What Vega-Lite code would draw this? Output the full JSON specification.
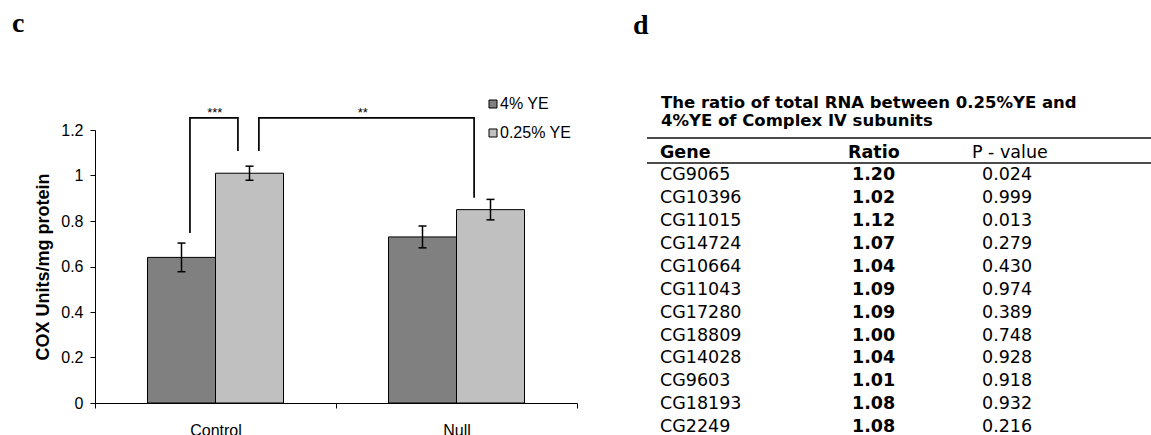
{
  "$schema": "https://vega.github.io/schema/vega-lite/v6.json",
  "background": "white",
  "padding": {"left": 12, "top": 9, "right": 0, "bottom": 0},
  "bounds": "flush",
  "spacing": 70,
  "config": {"view": {"stroke": null}, "font": "Liberation Sans"},
  "datasets": {
    "cox": [
      {"genotype": "Control", "diet": "4% YE", "mean": 0.64, "lo": 0.577, "hi": 0.703},
      {"genotype": "Control", "diet": "0.25% YE", "mean": 1.01, "lo": 0.979, "hi": 1.041},
      {"genotype": "Null", "diet": "4% YE", "mean": 0.73, "lo": 0.682, "hi": 0.778},
      {"genotype": "Null", "diet": "0.25% YE", "mean": 0.85, "lo": 0.805, "hi": 0.895}
    ],
    "brackets": [
      {"pair": "control", "k": 1, "bx": 0.394, "by": 0.747},
      {"pair": "control", "k": 2, "bx": 0.394, "by": 1.253},
      {"pair": "control", "k": 3, "bx": 0.593, "by": 1.253},
      {"pair": "control", "k": 4, "bx": 0.593, "by": 1.108},
      {"pair": "lowYE", "k": 1, "bx": 0.68, "by": 1.108},
      {"pair": "lowYE", "k": 2, "bx": 0.68, "by": 1.253},
      {"pair": "lowYE", "k": 3, "bx": 1.573, "by": 1.253},
      {"pair": "lowYE", "k": 4, "bx": 1.573, "by": 0.902}
    ],
    "stars": [
      {"sx": 0.497, "sy": 1.253, "label": "***"},
      {"sx": 1.111, "sy": 1.253, "label": "**"}
    ],
    "header": [
      {"col": "Gene"},
      {"col": "Ratio"},
      {"col": "P - value"}
    ],
    "genes": [
      {"gene": "CG9065", "ratio": 1.20, "p": 0.024},
      {"gene": "CG10396", "ratio": 1.02, "p": 0.999},
      {"gene": "CG11015", "ratio": 1.12, "p": 0.013},
      {"gene": "CG14724", "ratio": 1.07, "p": 0.279},
      {"gene": "CG10664", "ratio": 1.04, "p": 0.430},
      {"gene": "CG11043", "ratio": 1.09, "p": 0.974},
      {"gene": "CG17280", "ratio": 1.09, "p": 0.389},
      {"gene": "CG18809", "ratio": 1.00, "p": 0.748},
      {"gene": "CG14028", "ratio": 1.04, "p": 0.928},
      {"gene": "CG9603", "ratio": 1.01, "p": 0.918},
      {"gene": "CG18193", "ratio": 1.08, "p": 0.932},
      {"gene": "CG2249", "ratio": 1.08, "p": 0.216}
    ]
  },
  "hconcat": [
    {
      "width": 482,
      "height": 273,
      "title": {"text": "c", "anchor": "start", "frame": "group", "dx": -83, "offset": 47, "baseline": "alphabetic", "font": "Liberation Serif", "fontSize": 28, "fontWeight": "bold", "color": "black"},
      "layer": [
        {
          "data": {"name": "cox"},
          "encoding": {
            "x": {
              "field": "genotype", "type": "nominal",
              "scale": {"paddingInner": 0, "paddingOuter": 0},
              "axis": {"title": null, "labelAngle": 0, "labelFontSize": 16, "labelColor": "black", "labelPadding": 14, "domainColor": "black", "tickColor": "black", "tickSize": 5, "tickBand": "extent"}
            },
            "xOffset": {"field": "diet", "scale": {"domain": ["4% YE", "0.25% YE"], "paddingInner": 0, "paddingOuter": 0.772}}
          },
          "layer": [
            {
              "mark": {"type": "bar", "stroke": "black", "strokeWidth": 1, "opacity": 1},
              "encoding": {
                "y": {
                  "field": "mean", "type": "quantitative", "title": "COX Units/mg protein",
                  "scale": {"domain": [0, 1.2], "nice": false},
                  "axis": {"values": [0, 0.2, 0.4, 0.6, 0.8, 1, 1.2], "format": "~g", "grid": false, "domainColor": "black", "tickColor": "black", "tickSize": 5, "labelFontSize": 16, "labelColor": "black", "labelPadding": 7, "titleFontSize": 18, "titleFontWeight": "bold", "titleColor": "black", "titlePadding": 8}
                },
                "fill": {
                  "field": "diet", "type": "nominal",
                  "scale": {"domain": ["4% YE", "0.25% YE"], "range": ["#808080", "#c0c0c0"]},
                  "legend": {"title": null, "orient": "none", "legendX": 390, "legendY": -34, "symbolType": "square", "symbolSize": 64, "symbolStrokeColor": "black", "symbolStrokeWidth": 1, "symbolOpacity": 1, "labelFontSize": 16, "labelColor": "black", "labelOffset": -1, "rowPadding": 13}
                }
              }
            },
            {
              "mark": {"type": "rule", "color": "black", "strokeWidth": 1.5},
              "encoding": {
                "y": {"field": "lo", "type": "quantitative", "title": "COX Units/mg protein", "scale": {"domain": [0, 1.2], "nice": false}},
                "y2": {"field": "hi"}
              }
            },
            {
              "mark": {"type": "tick", "color": "black", "size": 8, "thickness": 1.5, "opacity": 1},
              "encoding": {"y": {"field": "lo", "type": "quantitative", "title": "COX Units/mg protein", "scale": {"domain": [0, 1.2], "nice": false}}}
            },
            {
              "mark": {"type": "tick", "color": "black", "size": 8, "thickness": 1.5, "opacity": 1},
              "encoding": {"y": {"field": "hi", "type": "quantitative", "title": "COX Units/mg protein", "scale": {"domain": [0, 1.2], "nice": false}}}
            }
          ]
        },
        {
          "data": {"name": "brackets"},
          "mark": {"type": "line", "color": "black", "strokeWidth": 1.7, "strokeJoin": "miter"},
          "encoding": {
            "x": {"field": "bx", "type": "quantitative", "scale": {"domain": [0, 2], "nice": false, "zero": false}, "axis": null},
            "y": {"field": "by", "type": "quantitative", "title": "COX Units/mg protein", "scale": {"domain": [0, 1.2], "nice": false}},
            "detail": {"field": "pair"},
            "order": {"field": "k"}
          }
        },
        {
          "data": {"name": "stars"},
          "mark": {"type": "text", "fontSize": 13, "baseline": "alphabetic", "dy": -1, "color": "black"},
          "encoding": {
            "x": {"field": "sx", "type": "quantitative", "scale": {"domain": [0, 2], "nice": false, "zero": false}, "axis": null},
            "y": {"field": "sy", "type": "quantitative", "title": "COX Units/mg protein", "scale": {"domain": [0, 1.2], "nice": false}},
            "text": {"field": "label"}
          }
        }
      ],
      "resolve": {"scale": {"x": "independent"}}
    },
    {
      "width": 504,
      "height": 306,
      "title": {"text": "d", "anchor": "start", "frame": "group", "dx": -14, "offset": 33, "baseline": "alphabetic", "font": "Liberation Serif", "fontSize": 28, "fontWeight": "bold", "color": "black"},
      "layer": [
        {
          "data": {"values": [{}]},
          "mark": {"type": "rule", "color": "#111", "strokeWidth": 1.5, "yOffset": -14.6},
          "encoding": {
            "y": {"datum": "Gene", "type": "nominal", "axis": null,
              "scale": {"type": "point", "domain": ["Gene", "CG9065", "CG10396", "CG11015", "CG14724", "CG10664", "CG11043", "CG17280", "CG18809", "CG14028", "CG9603", "CG18193", "CG2249"], "padding": 0.69, "align": 0.715}}
          }
        },
        {
          "data": {"values": [{}]},
          "mark": {"type": "rule", "color": "#111", "strokeWidth": 1.5, "yOffset": 10.4},
          "encoding": {"y": {"datum": "Gene", "type": "nominal"}}
        },
        {
          "data": {"values": [{}]},
          "mark": {"type": "text", "text": "The ratio of total RNA between 0.25%YE and", "align": "left", "baseline": "middle", "dx": -70, "dy": -49.4, "font": "DejaVu Sans", "fontSize": 16.5, "fontWeight": "bold", "color": "black"},
          "encoding": {
            "x": {"datum": "Gene", "type": "nominal", "axis": null, "scale": {"domain": ["Gene", "Ratio", "P - value"], "paddingInner": 0, "paddingOuter": 0}},
            "y": {"datum": "Gene", "type": "nominal"}
          }
        },
        {
          "data": {"values": [{}]},
          "mark": {"type": "text", "text": "4%YE of Complex IV subunits", "align": "left", "baseline": "middle", "dx": -70, "dy": -31.9, "font": "DejaVu Sans", "fontSize": 16.5, "fontWeight": "bold", "color": "black"},
          "encoding": {"x": {"datum": "Gene", "type": "nominal"}, "y": {"datum": "Gene", "type": "nominal"}}
        },
        {
          "data": {"name": "header"},
          "transform": [{"filter": "datum.col === 'Gene'"}],
          "mark": {"type": "text", "align": "left", "baseline": "middle", "dx": -71, "font": "DejaVu Sans", "fontSize": 17.5, "fontWeight": "bold", "color": "black"},
          "encoding": {"x": {"field": "col", "type": "nominal"}, "y": {"datum": "Gene", "type": "nominal"}, "text": {"field": "col"}}
        },
        {
          "data": {"name": "header"},
          "transform": [{"filter": "datum.col === 'Ratio'"}],
          "mark": {"type": "text", "align": "left", "baseline": "middle", "dx": -51, "font": "DejaVu Sans", "fontSize": 17.5, "fontWeight": "bold", "color": "black"},
          "encoding": {"x": {"field": "col", "type": "nominal"}, "y": {"datum": "Gene", "type": "nominal"}, "text": {"field": "col"}}
        },
        {
          "data": {"name": "header"},
          "transform": [{"filter": "datum.col === 'P - value'"}],
          "mark": {"type": "text", "align": "left", "baseline": "middle", "dx": -95, "font": "DejaVu Sans", "fontSize": 17.5, "color": "black"},
          "encoding": {"x": {"field": "col", "type": "nominal"}, "y": {"datum": "Gene", "type": "nominal"}, "text": {"field": "col"}}
        },
        {
          "data": {"name": "genes"},
          "mark": {"type": "text", "align": "left", "baseline": "middle", "dx": -71, "font": "DejaVu Sans", "fontSize": 17.5, "color": "black"},
          "encoding": {"x": {"datum": "Gene", "type": "nominal"}, "y": {"field": "gene", "type": "nominal"}, "text": {"field": "gene"}}
        },
        {
          "data": {"name": "genes"},
          "mark": {"type": "text", "align": "left", "baseline": "middle", "dx": -47, "font": "DejaVu Sans", "fontSize": 17.5, "fontWeight": "bold", "color": "black"},
          "encoding": {"x": {"datum": "Ratio", "type": "nominal"}, "y": {"field": "gene", "type": "nominal"}, "text": {"field": "ratio", "type": "quantitative", "format": ".2f"}}
        },
        {
          "data": {"name": "genes"},
          "mark": {"type": "text", "align": "left", "baseline": "middle", "dx": -85, "font": "DejaVu Sans", "fontSize": 17.5, "color": "black"},
          "encoding": {"x": {"datum": "P - value", "type": "nominal"}, "y": {"field": "gene", "type": "nominal"}, "text": {"field": "p", "type": "quantitative", "format": ".3f"}}
        }
      ]
    }
  ]
}
